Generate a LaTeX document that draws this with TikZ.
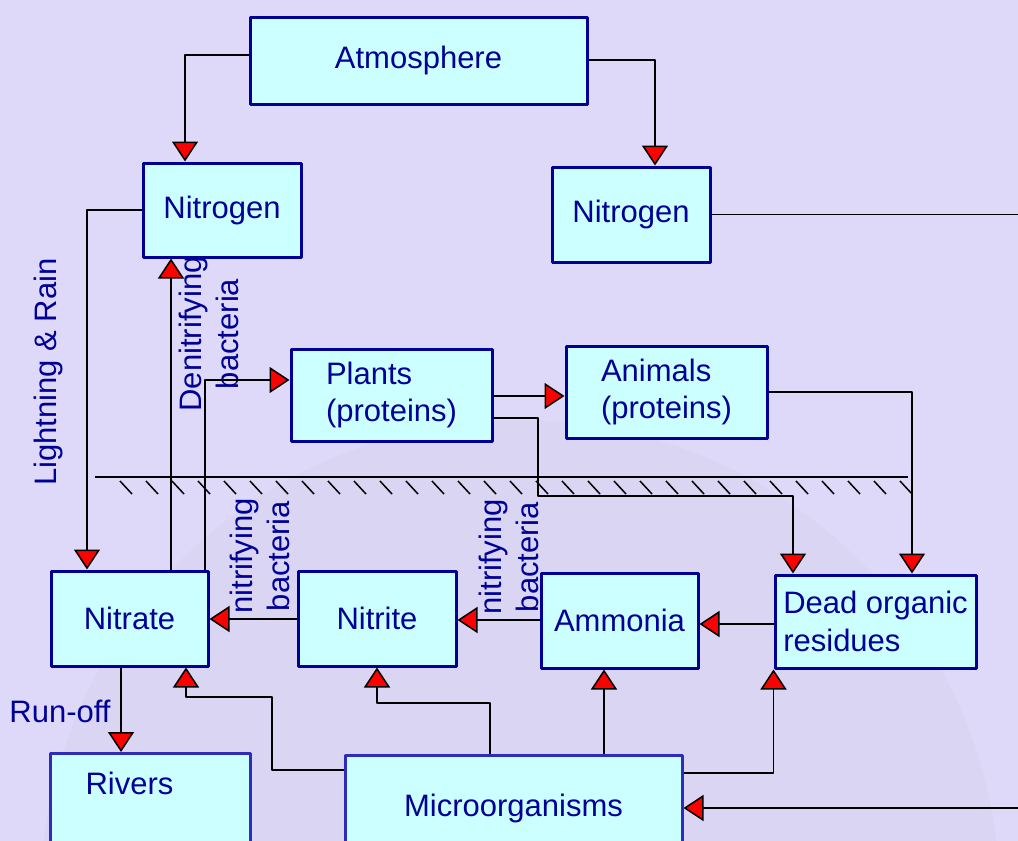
\documentclass[tikz,border=0pt]{standalone}
\usepackage{fontspec}
\setmainfont{Liberation Sans}
\usetikzlibrary{arrows.meta}
\definecolor{bgcol}{RGB}{222,217,248}
\definecolor{globecol}{RGB}{217,213,242}
\definecolor{boxfill}{RGB}{204,255,255}
\definecolor{boxline}{RGB}{0,0,150}
\definecolor{microline}{RGB}{45,45,185}
\definecolor{txtcol}{RGB}{0,0,150}
\begin{document}
\begin{tikzpicture}[x=0.5pt, y=-0.5pt, font=\fontsize{15.5}{18.6}\selectfont, line join=round,
  box/.style={draw=boxline, fill=boxfill, line width=1.5pt, text=txtcol, inner sep=0pt, align=left},
  flow/.style={line width=0.75pt, -{Triangle[length=10pt, width=13pt, fill=red]}},
  lab/.style={text=txtcol, rotate=90, align=center}]
  \useasboundingbox (0,0) rectangle (1018,841);
  \fill[bgcol] (0,0) rectangle (1018,841);
  \fill[globecol] (520,900) circle (480);
  \coordinate (edge) at (1030,0);
  \node[box, minimum width=168.5pt, minimum height=43.5pt] (atm) at (418.5,60.5) {Atmosphere};
  \node[box, minimum width=79pt, minimum height=47pt] (nitL) at (222,210) {Nitrogen};
  \node[box, minimum width=79pt, minimum height=47.5pt] (nitR) at (631,214.5) {Nitrogen};
  \node[box, minimum width=100.5pt, minimum height=46pt] (plants) at (391.5,395) {Plants\\(proteins)};
  \node[box, minimum width=100.5pt, minimum height=46pt] (animals) at (666.5,392) {Animals\\(proteins)};
  \node[box, minimum width=78.5pt, minimum height=47.5pt] (nitrate) at (129.5,618.5) {Nitrate};
  \node[box, minimum width=79pt, minimum height=47.5pt] (nitrite) at (377,618.5) {Nitrite};
  \node[box, minimum width=78.5pt, minimum height=47.5pt] (ammonia) at (619.5,620.5) {Ammonia};
  \node[box, minimum width=100.5pt, minimum height=46.5pt] (dead) at (875.5,621.5) {Dead organic\\residues};
  \node[box, draw=microline, anchor=north west, text width=65pt, inner xsep=17.5pt, text height=20.5pt, text depth=40pt] (rivers) at (49,752) {Rivers};
  \node[box, draw=microline, minimum width=168.5pt, minimum height=53pt] (micro) at (513.5,808) {Microorganisms};
  \draw[line width=0.75pt] (95,477) -- (908,477);
  \foreach \x in {120,146,...,900}
    \draw[line width=0.75pt] (\x,481) -- (\x+12,494);
  \node[lab] (lightning) at (48,372) {Lightning \& Rain};
  \node[lab] (denit) at (209,334) {Denitrifying\\bacteria};
  \node[lab] (nitrif1) at (260,556) {nitrifying\\bacteria};
  \node[lab] (nitrif2) at (509,557) {nitrifying\\bacteria};
  \node[text=txtcol] (runoff) at (60,711) {Run-off};
  \draw[flow] (atm.west |- 0,55) -| (nitL.north -| 185,0);
  \draw[flow] (atm.east |- 0,60) -| (nitR.north -| 655,0);
  \draw[flow] (nitR.east) -- (nitR.east -| edge) |- (micro.east);
  \draw[flow] (nitL.west) -| (nitrate.north -| 87,0);
  \draw[flow] (nitrate.north -| 171,0) -- (nitL.south -| 171,0);
  \draw[flow] (nitrate.north -| 205,0) |- (plants.west |- 0,380);
  \draw[flow] (plants.east |- 0,396) -- (animals.west |- 0,396);
  \draw[flow] (plants.east |- 0,418) -| (538,496) -| (dead.north -| 793,0);
  \draw[flow] (animals.east |- 0,392) -| (dead.north -| 912,0);
  \draw[flow] (ammonia.west |- 0,620) -- (nitrite.east |- 0,620);
  \draw[flow] (nitrite.west |- 0,619) -- (nitrate.east |- 0,619);
  \draw[flow] (dead.west |- 0,624) -- (ammonia.east |- 0,624);
  \draw[flow] (nitrate.south -| 121,0) -- (rivers.north -| 121,0);
  \draw[flow] (micro.west |- 0,770) -| (272,697) -| (nitrate.south -| 186,0);
  \draw[flow] (micro.north -| 490,0) |- (377,703) -- (nitrite.south -| 377,0);
  \draw[flow] (micro.north -| 604,0) -- (ammonia.south -| 604,0);
  \draw[flow] (micro.east |- 0,773) -| (dead.south west);
\end{tikzpicture}
\end{document}
